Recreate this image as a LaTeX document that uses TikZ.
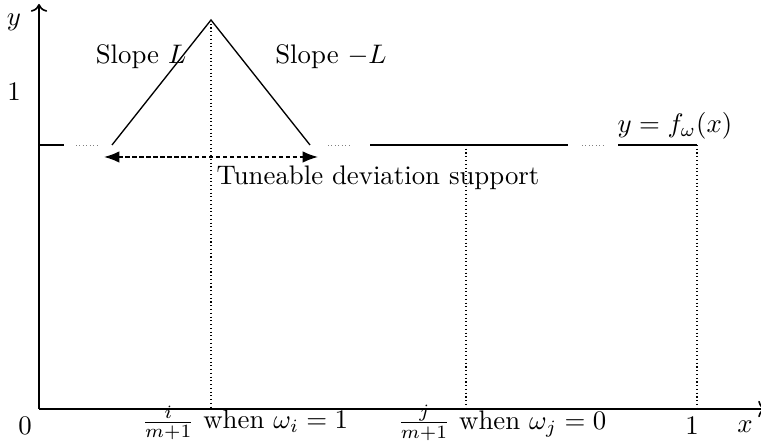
\documentclass[tikz,border=0pt]{standalone}
\usepackage{tikz}
\usetikzlibrary{arrows.meta, positioning, calc}
\usepackage{amsmath}

\begin{document}
\begin{tikzpicture}[
    x=0.373pt, y=0.373pt,
    axis/.style={->, line width=0.6pt},
    curve/.style={line width=0.5pt},
    gap/.style={densely dotted, line width=0.3pt, gray},
    guide/.style={densely dotted, line width=0.4pt},
    support/.style={{Latex}-{Latex}, dash pattern=on 1.6pt off 1pt, line width=0.6pt},
    lbl/.style={inner sep=1pt},
  ]
    \useasboundingbox (0,0) rectangle (761,444);

    % axes
    \coordinate (o) at (39,35);
    \coordinate (ytop) at (39,440);
    \coordinate (xend) at (766,35);
    \draw[axis] (o) -- (ytop);
    \draw[axis] (o) -- (xend);

    % key points of f
    \coordinate (a0) at (39,299);
    \coordinate (a1) at (64,299);
    \coordinate (left) at (112,299);
    \coordinate (peak) at (211,424);
    \coordinate (right) at (310,299);
    \coordinate (b0) at (370,299);
    \coordinate (b1) at (568,299);
    \coordinate (c0) at (618,299);
    \coordinate (c1) at (697,299);
    \coordinate (mid) at (466,299);

    \draw[curve] (a0) -- (a1);
    \draw[gap] (76,299) -- (98,299);
    \draw[curve] (left) -- (peak) -- (right);
    \draw[gap] (328,299) -- (350,299);
    \draw[curve] (b0) -- (b1);
    \draw[gap] (582,299) -- (604,299);
    \draw[curve] (c0) -- (c1);

    % guides down to the x axis
    \draw[guide] (peak) -- (peak |- o);
    \draw[guide] (mid) -- (mid |- o);
    \draw[guide] (c1) -- (c1 |- o);

    % support arrow
    \coordinate (s0) at (104,287);
    \coordinate (s1) at (318,287);
    \draw[support] (s0) -- (s1);

    % labels
    \node[lbl] (ylbl) at (14,422) {$y$};
    \node[lbl] (one) at (14,352) {1};
    \node[lbl] (zero) at (25,18) {0};
    \node[lbl] (xone) at (692,18) {1};
    \node[lbl] (xlbl) at (745,17) {$x$};
    \node[lbl] (slopeL) at (141,387) {Slope $L$};
    \node[lbl] (slopeR) at (331,387) {Slope $-L$};
    \node[lbl] (flbl) at (675,318) {$y=f_\omega(x)$};
    \node[lbl] (supp) at (378,266) {Tuneable deviation support};
    \node[lbl] (wi) at (245,21) {$\frac{i}{m+1}$ when $\omega_i=1$};
    \node[lbl] (wj) at (502,21) {$\frac{j}{m+1}$ when $\omega_j=0$};
\end{tikzpicture}
\end{document}
